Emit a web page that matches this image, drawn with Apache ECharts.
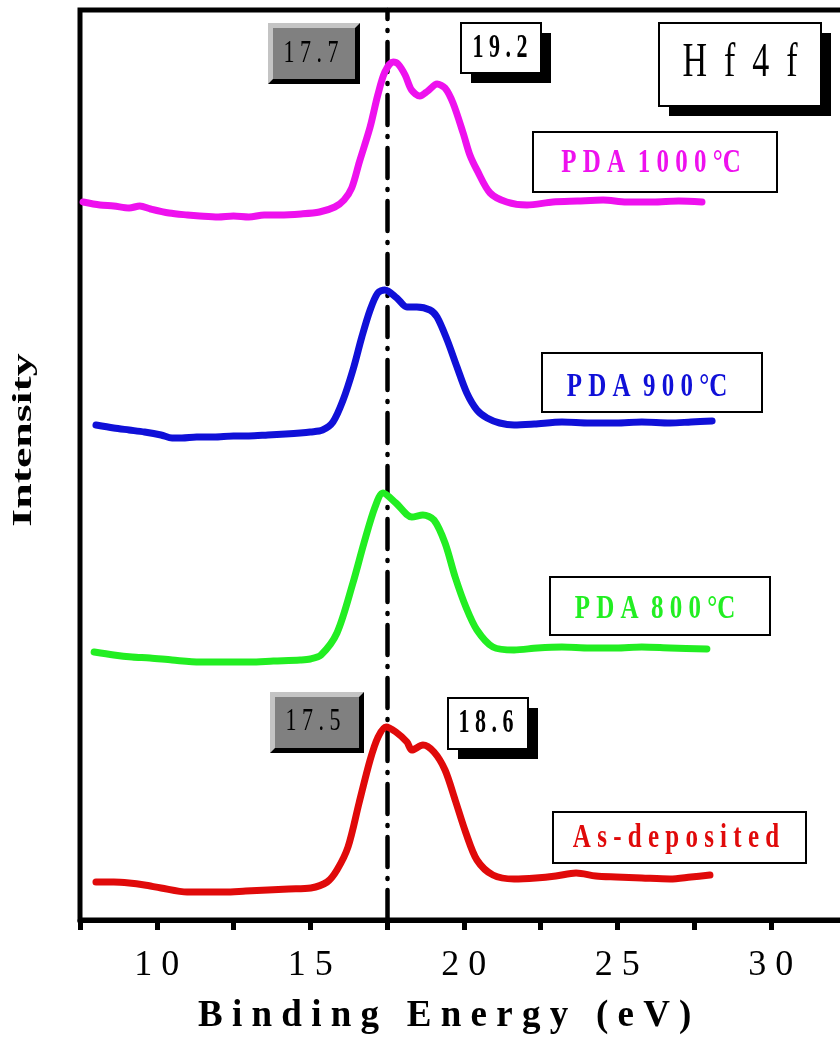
<!DOCTYPE html>
<html>
<head>
<meta charset="utf-8">
<script src="https://cdn.jsdelivr.net/npm/echarts@6/dist/echarts.min.js"></script>
<style>html,body{margin:0;padding:0;background:#fff;}#chart{width:840px;height:1042px;}</style>
</head>
<body>
<div id="chart"></div>
<script>
// ---- data (binding energy in eV, intensity in arbitrary stacked units) ----
const energy1000 = [7.6,8.15,8.6,9.1,9.45,9.8,10.4,11.0,11.4,12.0,12.5,13.0,13.5,14.0,14.7,15.3,15.8,16.1,16.35,16.6,16.95,17.2,17.43,17.7,17.86,18.09,18.3,18.57,18.83,19.13,19.39,19.65,19.98,20.2,20.43,20.86,21.4,22.06,22.9,23.7,24.54,25.3,26.16,27.0,27.76];
const intensity1000 = [718,715,714,712,714,711,707,705,704,703,704,703,705,705,706,708,713,720,732,758,793,825,848,858,856,845,830,824,829,836,832,817,787,765,750,727,718,715,718,719,720,718,718,719,718];

const energy900 = [8.02,8.6,9.1,9.6,10.14,10.5,10.82,11.3,11.86,12.5,13.0,13.62,14.2,14.67,15.0,15.4,15.74,16.07,16.39,16.68,16.95,17.2,17.43,17.82,18.15,18.47,18.9,19.13,19.46,19.78,20.1,20.43,20.76,21.17,21.64,22.3,23.2,24.1,24.96,25.8,26.72,27.4,28.09];
const intensity900 = [495,492,490,488,485,482,482,483,483,484,484,485,486,487,488,490,498,520,550,583,610,627,630,622,613,613,610,603,580,553,527,510,502,497,495,496,498,497,497,498,497,498,499];

const energy800 = [7.96,8.6,9.2,9.78,10.5,11.41,12.2,13.04,13.8,14.67,15.0,15.35,15.87,16.39,16.75,17.11,17.37,17.79,18.31,18.67,19.03,19.39,19.72,20.07,20.43,20.95,21.64,22.4,23.2,24.1,24.96,25.8,26.72,27.92];
const intensity800 = [268,265,263,262,260,258,258,258,259,260,261,265,287,337,377,413,427,417,403,405,400,377,343,313,290,273,270,272,273,272,272,273,272,271];

const energyAsDep = [8.02,8.6,9.1,9.6,10.14,10.99,11.6,12.22,12.9,13.62,14.3,15.02,15.55,15.87,16.23,16.59,16.95,17.21,17.47,17.79,18.15,18.31,18.67,19.03,19.39,19.72,20.07,20.43,20.95,21.64,22.35,23.0,23.66,24.3,24.96,25.8,26.72,27.4,28.02];
const intensityAsDep = [38,38,37,35,32,28,28,28,29,30,31,32,38,50,73,117,160,183,193,188,178,170,175,168,150,120,87,60,45,41,42,44,47,44,43,42,41,43,45];

const seriesNames = ['PDA 1000°C','PDA 900°C','PDA 800°C','As-deposited'];
const seriesColors = ['#ee11ee','#1010d8','#22ee22','#e00a0a'];
const refLineEnergy = 17.5;
const xTickLabels = [10,15,20,25,30];

const SERIF = 'Liberation Serif';
function pairs(xs, ys){ return xs.map((x,i)=>[x, ys[i]]); }
const allData = [pairs(energy1000,intensity1000), pairs(energy900,intensity900), pairs(energy800,intensity800), pairs(energyAsDep,intensityAsDep)];

function spaced(s){ return String(s).split('').join(' '); }

// ---- annotation boxes ----
function txt(cx, cy, text, size, color, weight, sy){
  return {type:'text', x:cx, y:cy, scaleY:sy, z:20,
    style:{text:text, fontSize:size, fontFamily:SERIF, fontWeight:weight, fill:color, align:'center', verticalAlign:'middle', textAlign:'center', textVerticalAlign:'middle'}};
}
function bevelBox(x0,y0,x1,y1,label,cx,cy){
  const b=5;
  return [
    {type:'rect', z:10, shape:{x:x0,y:y0,width:x1-x0,height:y1-y0}, style:{fill:'#c4c4c4'}},
    {type:'polygon', z:11, shape:{points:[[x1,y0],[x1,y1],[x0,y1],[x0+b,y1-b],[x1-b,y1-b],[x1-b,y0+b]]}, style:{fill:'#000'}},
    {type:'rect', z:12, shape:{x:x0+b,y:y0+b,width:x1-x0-2*b,height:y1-y0-2*b}, style:{fill:'#808080'}},
    txt(cx,cy,label,22,'#000','normal',1.45)
  ];
}
function shadowBox(x0,y0,x1,y1,label,cx,cy,size,weight,sy){
  return [
    {type:'rect', z:10, shape:{x:x0+10,y:y0+10,width:x1-x0,height:y1-y0}, style:{fill:'#000'}},
    {type:'rect', z:11, shape:{x:x0,y:y0,width:x1-x0,height:y1-y0}, style:{fill:'#fff', stroke:'#000', lineWidth:2}},
    txt(cx,cy,label,size,'#000',weight,sy)
  ];
}
function plainBox(x0,y0,x1,y1,label,cx,cy,color){
  return [
    {type:'rect', z:10, shape:{x:x0,y:y0,width:x1-x0,height:y1-y0}, style:{fill:'#fff', stroke:'#000', lineWidth:2}},
    txt(cx,cy,label,25,color,'bold',1.35)
  ];
}

const graphics = [].concat(
  bevelBox(268,23,360,84,'1 7 . 7',311,54),
  shadowBox(461,23,541,73,'1 9 . 2',500,48,22,'bold',1.5),
  shadowBox(659,23,821,106,'H  f  4  f',740,64,34,'normal',1.4),
  plainBox(533,132,777,192,'P D A  1 0 0 0 °C',651,163,seriesColors[0]),
  plainBox(542,353,762,412,'P D A  9 0 0 °C',647,387,seriesColors[1]),
  plainBox(550,577,770,635,'P D A  8 0 0 °C',655,609,seriesColors[2]),
  bevelBox(270,692,364,753,'1 7 . 5',313,722),
  shadowBox(448,698,528,749,'1 8 . 6',486,723,22,'bold',1.5),
  plainBox(553,812,806,863,'A s - d e p o s i t e d',676,838,seriesColors[3]),
  [{type:'text', x:24, y:440, rotation:Math.PI/2, scaleX:1.7, z:20,
    style:{text:'Intensity', fontSize:27, fontWeight:'bold', fontFamily:SERIF, fill:'#000', align:'center', verticalAlign:'middle', textAlign:'center', textVerticalAlign:'middle'}}]
);

const series = allData.map((d,i)=>({
  name: seriesNames[i], type:'line', data:d, showSymbol:false, symbol:'none', smooth:0.3,
  lineStyle:{color:seriesColors[i], width:7, cap:'round', join:'round'}, itemStyle:{color:seriesColors[i]}, z:5
}));
series[3].markLine = {
  silent:true, symbol:['none','none'], label:{show:false},
  lineStyle:{color:'#000', width:4.5, type:[30,11,1,11], cap:'round'},
  data:[{xAxis:refLineEnergy}]
};

const chart = echarts.init(document.getElementById('chart'), null, {renderer:'canvas'});
chart.setOption({
  animation:false,
  backgroundColor:'#fff',
  grid:{left:80, top:10, right:-7.5, bottom:122, show:true, borderColor:'#000', borderWidth:5, containLabel:false, outerBoundsMode:'none'},
  xAxis:{
    type:'value', min:7.5, max:32.5, interval:2.5,
    axisLine:{show:true, lineStyle:{color:'#000', width:5}},
    axisTick:{show:true, length:10, lineStyle:{color:'#000', width:5}},
    splitLine:{show:false},
    axisLabel:{fontFamily:SERIF, fontSize:36, color:'#000', margin:28,
      formatter:(v)=> xTickLabels.indexOf(v)>=0 ? spaced(v) : ''},
    name:'B i n d i n g   E n e r g y   ( e V )', nameLocation:'middle', nameGap:78,
    nameTextStyle:{fontFamily:SERIF, fontSize:37, fontWeight:'bold', color:'#000', padding:[0,38,0,0]}
  },
  yAxis:{type:'value', min:0, max:910, axisLine:{show:false}, axisTick:{show:false}, axisLabel:{show:false}, splitLine:{show:false}},
  series:series,
  graphic:{elements:graphics}
});
</script>
</body>
</html>
